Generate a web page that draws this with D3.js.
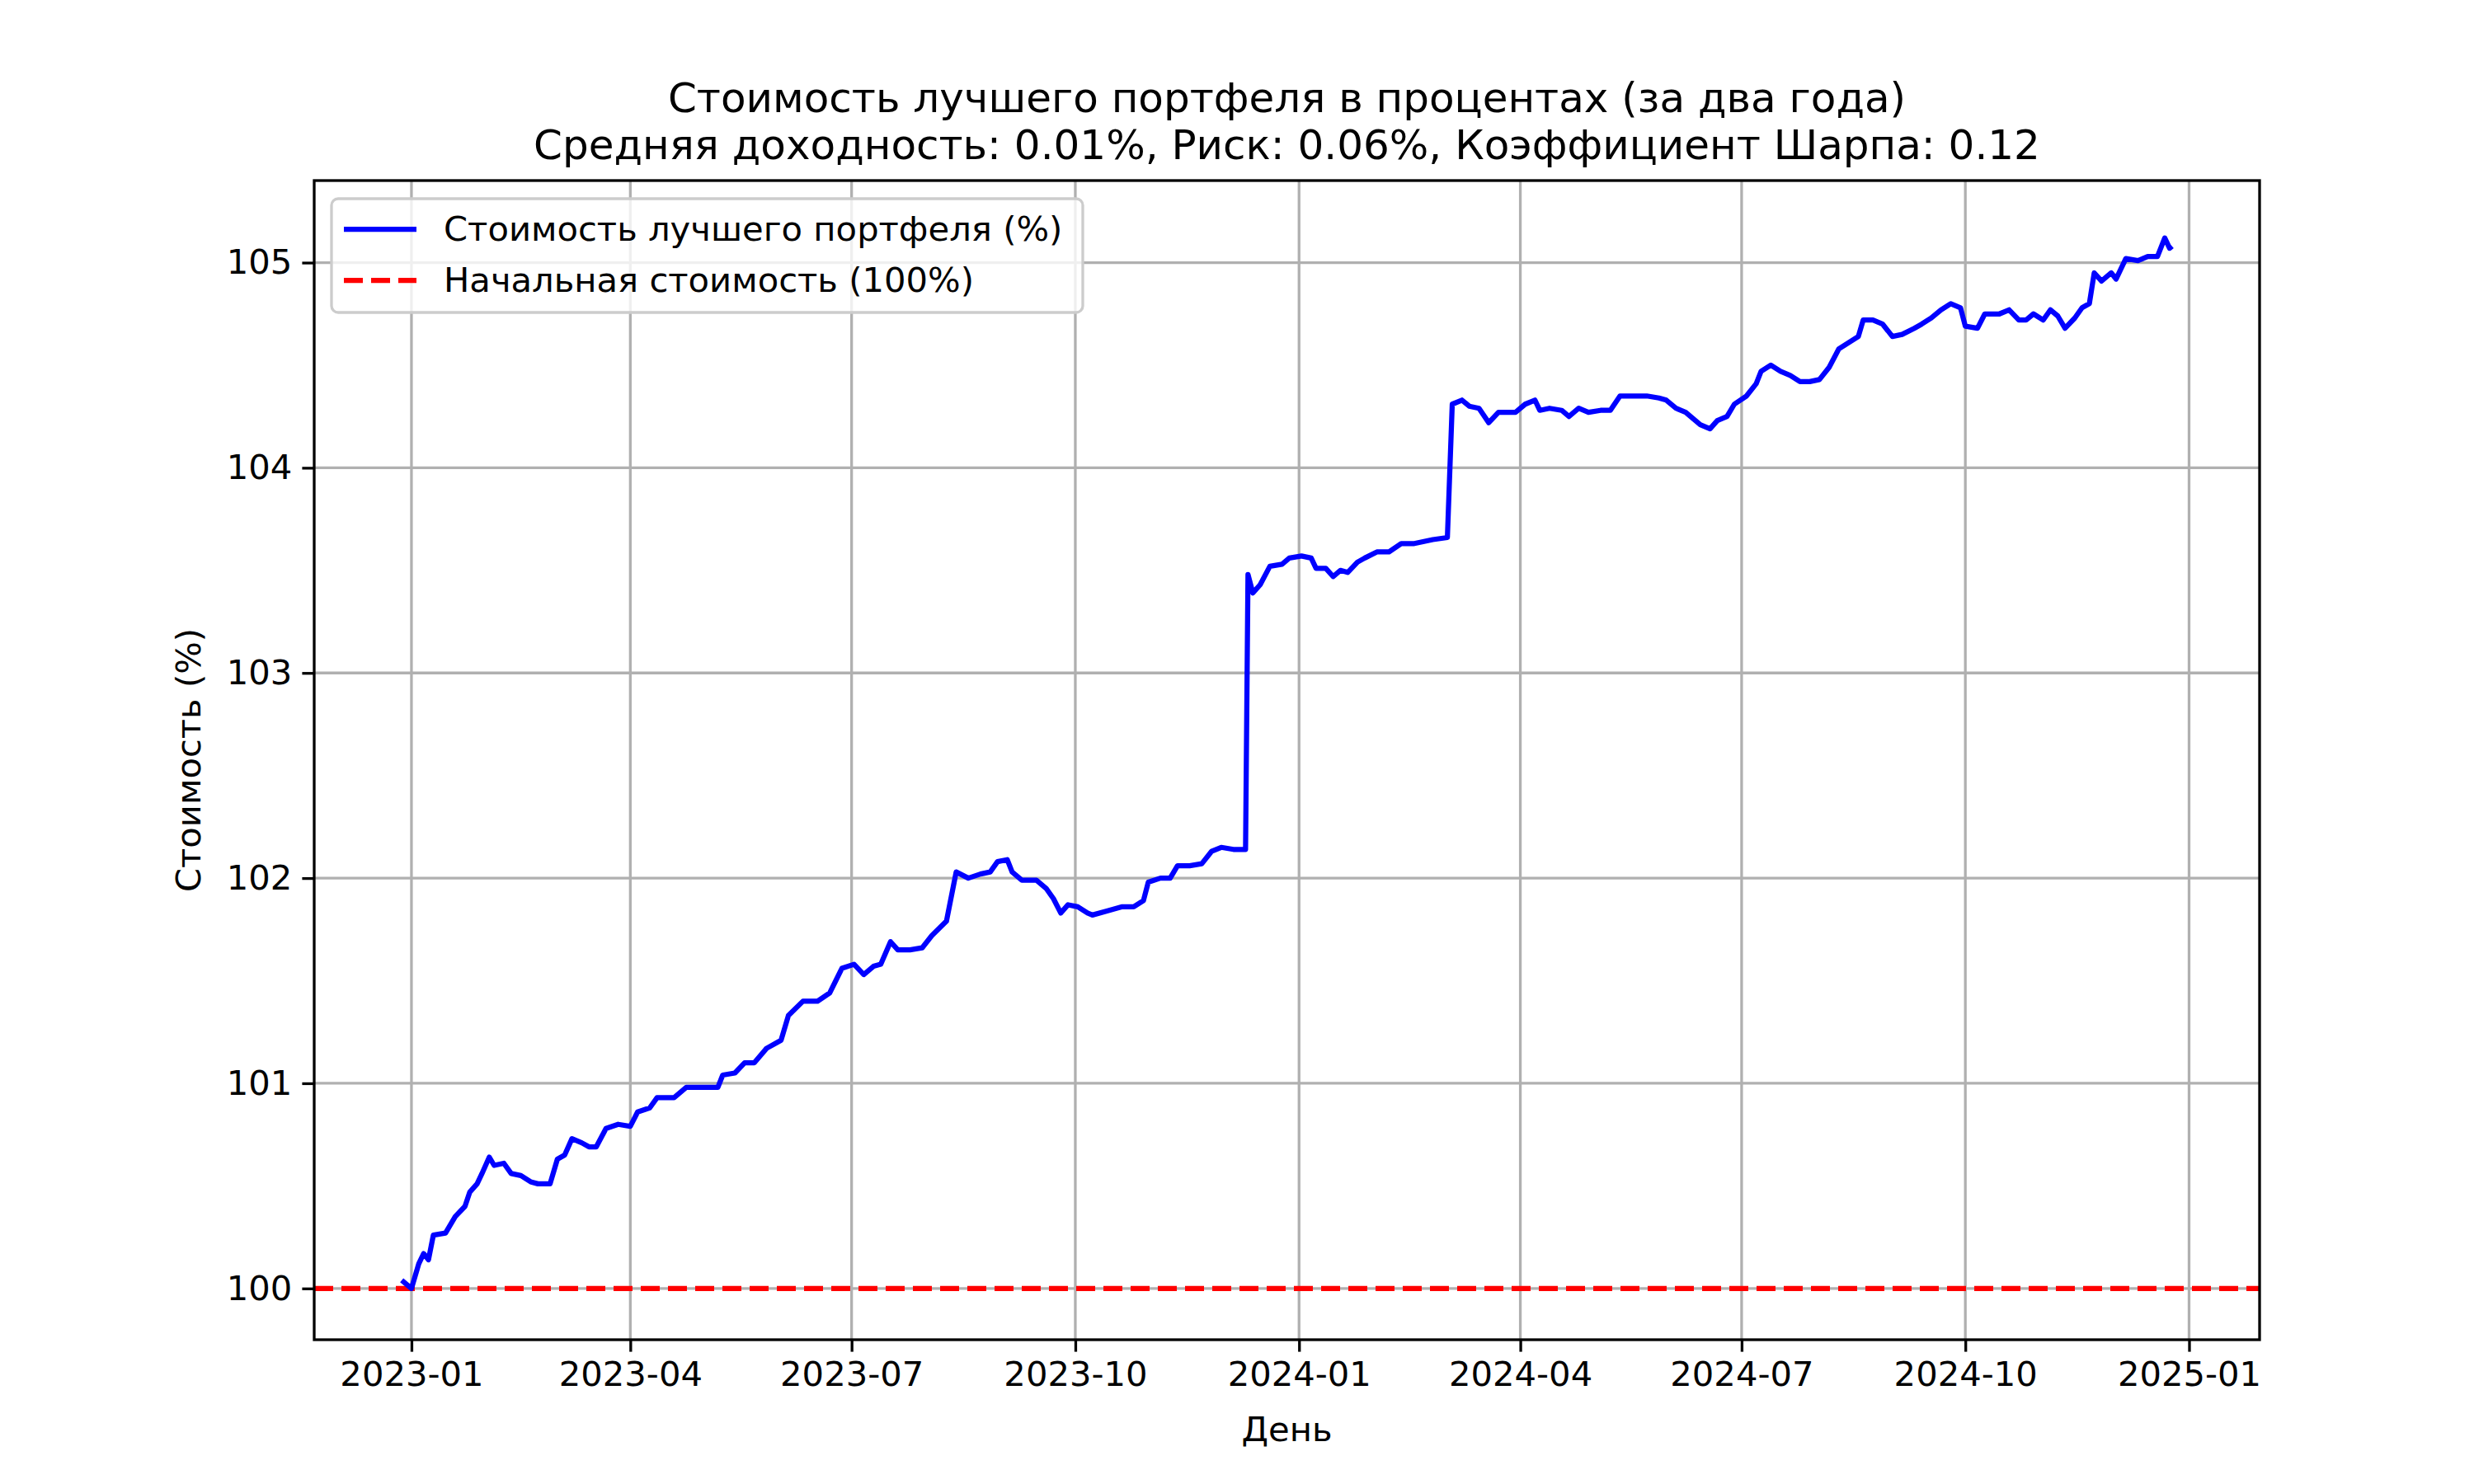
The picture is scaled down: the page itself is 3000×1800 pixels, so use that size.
<!DOCTYPE html>
<html><head><meta charset="utf-8">
<script src="https://cdn.jsdelivr.net/npm/d3@7"></script>
<style>body{margin:0;background:#fff}text{font-family:"DejaVu Sans",sans-serif}</style>
</head><body><svg id="c" width="3000" height="1800"></svg>
<script>
// days since 2023-01-01 and portfolio value (%)
const dayOffsets = [-4,0,3,5,7,9,14,18,22,24,27,29,32,34,38,41,45,49,52,57,60,63,66,70,73,76,80,85,90,93,98,101,108,113,116,121,126,128,133,137,141,146,152,155,161,167,172,177,182,186,190,193,197,200,205,210,214,220,224,229,234,238,241,245,247,251,257,261,264,267,270,274,278,280,286,292,297,301,303,308,312,315,320,325,329,333,338,343,344,346,349,353,358,361,366,370,372,376,379,382,385,389,392,397,402,407,412,416,420,426,428,432,435,439,443,447,450,454,458,462,464,468,473,476,480,484,489,493,497,503,508,513,516,520,524,528,530,534,537,541,544,549,553,555,559,563,567,571,575,579,583,587,591,595,597,601,605,609,613,618,621,625,629,633,637,639,644,647,653,657,661,664,667,671,674,677,680,684,687,690,692,695,699,701,705,710,714,718,721,723,724];
const values = [100.04,100.0,100.12,100.17,100.14,100.26,100.27,100.35,100.40,100.47,100.51,100.56,100.64,100.60,100.61,100.56,100.55,100.52,100.51,100.51,100.63,100.65,100.73,100.71,100.69,100.69,100.78,100.80,100.79,100.86,100.88,100.93,100.93,100.98,100.98,100.98,100.98,101.04,101.05,101.10,101.10,101.17,101.21,101.33,101.40,101.40,101.44,101.56,101.58,101.53,101.57,101.58,101.69,101.65,101.65,101.66,101.72,101.79,102.03,102.00,102.02,102.03,102.08,102.09,102.03,101.99,101.99,101.95,101.90,101.83,101.87,101.86,101.83,101.82,101.84,101.86,101.86,101.89,101.98,102.00,102.00,102.06,102.06,102.07,102.13,102.15,102.14,102.14,103.48,103.39,103.43,103.52,103.53,103.56,103.57,103.56,103.51,103.51,103.47,103.50,103.49,103.54,103.56,103.59,103.59,103.63,103.63,103.64,103.65,103.66,104.31,104.33,104.30,104.29,104.22,104.27,104.27,104.27,104.31,104.33,104.28,104.29,104.28,104.25,104.29,104.27,104.28,104.28,104.35,104.35,104.35,104.34,104.33,104.29,104.27,104.23,104.21,104.19,104.23,104.25,104.31,104.35,104.41,104.47,104.50,104.47,104.45,104.42,104.42,104.43,104.49,104.58,104.61,104.64,104.72,104.72,104.70,104.64,104.65,104.68,104.70,104.73,104.77,104.80,104.78,104.69,104.68,104.75,104.75,104.77,104.72,104.72,104.75,104.72,104.77,104.74,104.68,104.73,104.78,104.80,104.95,104.91,104.95,104.92,105.02,105.01,105.03,105.03,105.12,105.07,105.08];
const yTicks = [100,101,102,103,104,105];
const xTicks = ["2023-01","2023-04","2023-07","2023-10","2024-01","2024-04","2024-07","2024-10","2025-01"];
const titleLines = ["Стоимость лучшего портфеля в процентах (за два года)","Средняя доходность: 0.01%, Риск: 0.06%, Коэффициент Шарпа: 0.12"];
const legendLabels = ["Стоимость лучшего портфеля (%)","Начальная стоимость (100%)"];

const start = new Date(2023,0,1);
const data = dayOffsets.map((d,i)=>({date:d3.timeDay.offset(start,d),v:values[i]}));
const L=381,R=2740,T=219,B=1625;
const svg=d3.select("#c");
const x=d3.scaleTime().domain([d3.timeDay.offset(start,-40),d3.timeDay.offset(start,760)]).range([L,R]);
const y=d3.scaleLinear().domain([99.75,105.4]).range([B,T]);
const parse=d3.timeParse("%Y-%m");

// grid
svg.append("g").selectAll("line").data(xTicks).join("line")
  .attr("x1",d=>x(parse(d))).attr("x2",d=>x(parse(d))).attr("y1",T).attr("y2",B)
  .attr("stroke","#b0b0b0").attr("stroke-width",3.3);
svg.append("g").selectAll("line").data(yTicks).join("line")
  .attr("y1",d=>y(d)).attr("y2",d=>y(d)).attr("x1",L).attr("x2",R)
  .attr("stroke","#b0b0b0").attr("stroke-width",3.3);

// axes
const xa=svg.append("g").attr("transform",`translate(0,${B})`)
  .call(d3.axisBottom(x).tickValues(xTicks.map(parse)).tickFormat(d3.timeFormat("%Y-%m")).tickSize(14.6).tickPadding(12));
const ya=svg.append("g").attr("transform",`translate(${L},0)`)
  .call(d3.axisLeft(y).tickValues(yTicks).tickFormat(d3.format("d")).tickSize(14.6).tickPadding(12));
[xa,ya].forEach(a=>{a.select(".domain").remove();
  a.selectAll(".tick line").attr("stroke","#000").attr("stroke-width",3.3);
  a.selectAll("text").attr("font-size",41.7).attr("fill","#000").attr("font-family","DejaVu Sans");});

// lines
svg.append("line").attr("x1",L).attr("x2",R).attr("y1",y(100)).attr("y2",y(100))
  .attr("stroke","red").attr("stroke-width",6.25).attr("stroke-dasharray","23 10");
svg.append("path").datum(data).attr("fill","none").attr("stroke","blue").attr("stroke-width",6.25)
  .attr("stroke-linejoin","round")
  .attr("d",d3.line().x(d=>x(d.date)).y(d=>y(d.v)));

svg.append("rect").attr("x",L).attr("y",T).attr("width",R-L).attr("height",B-T)
  .attr("fill","none").attr("stroke","#000").attr("stroke-width",3.3);

// labels
svg.selectAll(".title").data(titleLines).join("text").attr("x",(L+R)/2).attr("y",(d,i)=>136+i*57)
  .attr("text-anchor","middle").attr("font-size",50).text(d=>d);
svg.append("text").attr("x",(L+R)/2).attr("y",1748).attr("text-anchor","middle").attr("font-size",41.7).text("День");
svg.append("text").attr("transform",`translate(243,${(T+B)/2}) rotate(-90)`).attr("text-anchor","middle").attr("font-size",41.7).text("Стоимость (%)");

// legend
const lg=svg.append("g");
lg.append("rect").attr("x",402).attr("y",241).attr("width",911).attr("height",138).attr("rx",8)
  .attr("fill","#fff").attr("fill-opacity",0.8).attr("stroke","#ccc").attr("stroke-width",3.3);
const colors=["blue","red"];
legendLabels.forEach((t,i)=>{
  const yy=278+i*62;
  lg.append("line").attr("x1",417).attr("x2",505).attr("y1",yy).attr("y2",yy).attr("stroke",colors[i])
    .attr("stroke-width",6.25).attr("stroke-dasharray",i?"23 10":null);
  lg.append("text").attr("x",538).attr("y",yy+14).attr("font-size",41.7).text(t);
});
</script></body></html>
